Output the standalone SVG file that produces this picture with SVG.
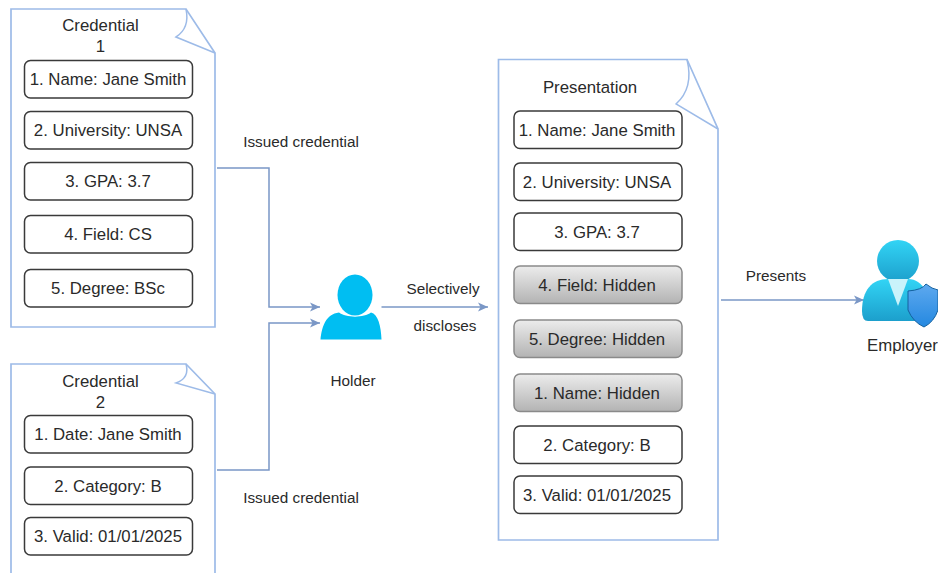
<svg xmlns="http://www.w3.org/2000/svg" width="938" height="573" viewBox="0 0 938 573">
<style>
text{font-family:"Liberation Sans",Arial,sans-serif;fill:#2a2a2a;text-anchor:middle}
.t{font-size:16.800px}.s{font-size:15.300px}
.doc{fill:#fff;stroke:#9dbbe8;stroke-width:1.700}
.fold{fill:none;stroke:#9dbbe8;stroke-width:1.500}
.b{fill:#fff;stroke:#3a3a3a;stroke-width:1.500}
.h{fill:url(#g);stroke:#8a8a8a;stroke-width:1.500}
.c{fill:none;stroke:#7a97c6;stroke-width:1.500;marker-end:url(#a)}
</style>
<defs>
<marker id="a" markerUnits="userSpaceOnUse" markerWidth="12" markerHeight="10" refX="10" refY="5" orient="auto"><path d="M0 0.500L10 5L0 9.500L2.500 5Z" fill="#7a97c6"/></marker>
<linearGradient id="g" x1="0" y1="0" x2="0" y2="1"><stop offset="0" stop-color="#ececec"/><stop offset="1" stop-color="#b3b3b3"/></linearGradient>
<linearGradient id="u" x1="0" y1="0" x2="0" y2="1"><stop offset="0" stop-color="#32d4f5"/><stop offset="1" stop-color="#1c9fcc"/></linearGradient>
<linearGradient id="sh" x1="0" y1="0" x2="0" y2="1"><stop offset="0" stop-color="#5ea9ef"/><stop offset="1" stop-color="#2488e0"/></linearGradient>
</defs>
<g id="cred1">
<path class="doc" d="M11 9H186L215 53V327H11Z"/>
<path class="fold" d="M186 9Q190 28 176 37L215 53"/>
<text class="t" x="100.500" y="31">Credential</text><text class="t" x="100.500" y="52">1</text>
<rect class="b" x="24.500" y="60.500" width="168" height="37.500" rx="6"/><text class="t" x="108" y="85">1. Name: Jane Smith</text>
<rect class="b" x="24.500" y="111.500" width="168" height="37.500" rx="6"/><text class="t" x="108" y="136">2. University: UNSA</text>
<rect class="b" x="24.500" y="162.500" width="168" height="37.500" rx="6"/><text class="t" x="108" y="187">3. GPA: 3.7</text>
<rect class="b" x="24.500" y="215.500" width="168" height="37.500" rx="6"/><text class="t" x="108" y="240">4. Field: CS</text>
<rect class="b" x="24.500" y="269.500" width="168" height="37.500" rx="6"/><text class="t" x="108" y="294">5. Degree: BSc</text>
</g>
<g id="cred2">
<path class="doc" d="M11 574V364H186L215 394V574"/>
<path class="fold" d="M186 364Q190 378 176 383L215 394"/>
<text class="t" x="100.500" y="387">Credential</text><text class="t" x="100.500" y="408">2</text>
<rect class="b" x="24.500" y="415.500" width="168" height="37.500" rx="6"/><text class="t" x="108" y="440">1. Date: Jane Smith</text>
<rect class="b" x="24.500" y="467" width="168" height="37.500" rx="6"/><text class="t" x="108" y="492">2. Category: B</text>
<rect class="b" x="24.500" y="517.500" width="168" height="37.500" rx="6"/><text class="t" x="108" y="542">3. Valid: 01/01/2025</text>
</g>
<g id="presentation">
<path class="doc" d="M498.500 59.500H687L718 129V540H498.500Z"/>
<path class="fold" d="M687 59.500Q694 88 676 104L718 129"/>
<text class="t" x="590" y="93">Presentation</text>
<rect class="b" x="514" y="111" width="168" height="37.500" rx="6"/><text class="t" x="597" y="135.500">1. Name: Jane Smith</text>
<rect class="b" x="514" y="163" width="168" height="37.500" rx="6"/><text class="t" x="597" y="187.500">2. University: UNSA</text>
<rect class="b" x="514" y="213" width="168" height="37.500" rx="6"/><text class="t" x="597" y="237.500">3. GPA: 3.7</text>
<rect class="h" x="514" y="266" width="168" height="37.500" rx="6"/><text class="t" x="597" y="290.500">4. Field: Hidden</text>
<rect class="h" x="514" y="320" width="168" height="37.500" rx="6"/><text class="t" x="597" y="344.500">5. Degree: Hidden</text>
<rect class="h" x="514" y="374" width="168" height="37.500" rx="6"/><text class="t" x="597" y="398.500">1. Name: Hidden</text>
<rect class="b" x="514" y="426" width="168" height="37.500" rx="6"/><text class="t" x="597" y="450.500">2. Category: B</text>
<rect class="b" x="514" y="476" width="168" height="37.500" rx="6"/><text class="t" x="597" y="500.500">3. Valid: 01/01/2025</text>
</g>
<g id="connectors">
<path class="c" d="M217 168H269V307H320"/>
<path class="c" d="M217 470H269V323H320"/>
<path class="c" d="M381.500 307H488"/>
<path class="c" d="M721 300H864"/>
</g>
<g id="holder">
<ellipse cx="355" cy="295" rx="17.500" ry="20.500" fill="#00bef2"/>
<path d="M320.500 339.500C322 326 326 314 339 312.500C346 318 364 318 371 312.500C378 314 381 326 381.500 339.500Z" fill="#00bef2"/>
<text class="s" x="353" y="385.500">Holder</text>
</g>
<g id="employer">
<circle cx="898" cy="261" r="21" fill="url(#u)"/>
<path d="M862 311C862 290 872 279 888 279H908C916 279 921 283 925 290V321H868Q862 321 862 311Z" fill="url(#u)"/>
<path d="M888 279H908L898 306Z" fill="#c9f3fb"/>
<path d="M908 291Q922 290 926 284Q932 289 938 290V310Q934 322 924 327Q913 322 908 310Z" fill="url(#sh)" stroke="#14619f" stroke-width="1"/>
<text class="t" x="902.500" y="351">Employer</text>
</g>
<g id="labels">
<text class="s" x="301" y="147">Issued credential</text>
<text class="s" x="301" y="503">Issued credential</text>
<text class="s" x="443" y="294">Selectively</text>
<text class="s" x="445" y="331">discloses</text>
<text class="s" x="776" y="281">Presents</text>
</g>
</svg>
